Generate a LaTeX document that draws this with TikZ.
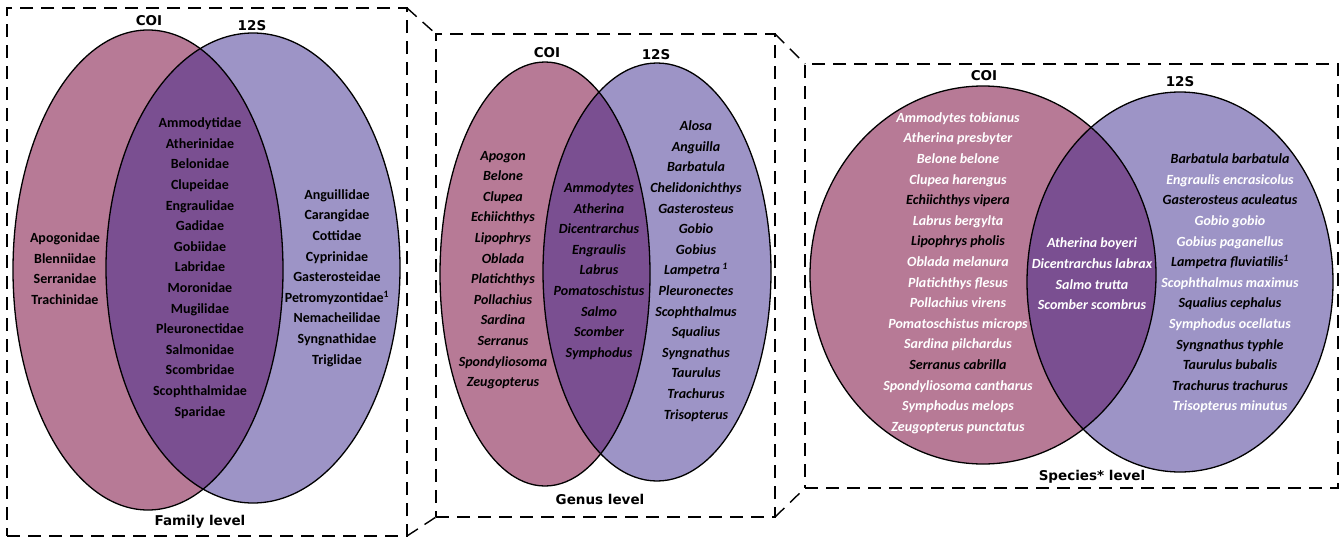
\documentclass[tikz,border=0pt]{standalone}
\usepackage{fontspec}
\setmainfont{Carlito}
\newfontfamily\hdrfont{DejaVu Sans}
\definecolor{coi}{RGB}{183,122,150}
\definecolor{tws}{RGB}{157,148,198}
\definecolor{lens}{RGB}{122,79,145}
\newcommand{\wsp}[1]{\textcolor{white}{#1}}
\newcommand{\ksp}[1]{\textcolor{black}{#1}}
\tikzset{
  dbox/.style={draw, dash pattern=on 13pt off 8pt, line width=1.4pt, inner sep=0pt, outer sep=0pt, rectangle},
  dline/.style={draw, dash pattern=on 13pt off 8pt, line width=1.4pt},
  hdr/.style={font=\hdrfont\bfseries\fontsize{13.5}{16}\selectfont, inner sep=0pt},
  fam/.style={font=\bfseries\fontsize{14}{20.6}\selectfont, align=center, inner sep=0pt},
  gen/.style={font=\bfseries\itshape\fontsize{14}{20.6}\selectfont, align=center, inner sep=0pt},
  venn/.style={draw=black, line width=1.3pt},
}
\begin{document}
\begin{tikzpicture}[x=1pt,y=-1pt]
\useasboundingbox (0,0) rectangle (1343,538);
% boxes
\node[dbox, minimum width=400pt, minimum height=528pt] (b1) at (207,272) {};
\node[dbox, minimum width=339pt, minimum height=483pt] (b2) at (605.5,275.5) {};
\node[dbox, minimum width=533pt, minimum height=424pt] (b3) at (1071.5,276) {};
\draw[dline] (b1.north east) -- (b2.north west);
\draw[dline] (b1.south east) -- (b2.south west);
\draw[dline] (b2.north east) -- (b3.north west);
\draw[dline] (b2.south east) -- (b3.south west);

% ---------- Family ----------
\fill[coi] (148,270) ellipse [x radius=135, y radius=240];
\fill[tws] (253,268) ellipse [x radius=147, y radius=235];
\begin{scope}
\clip (148,270) ellipse [x radius=135, y radius=240];
\fill[lens] (253,268) ellipse [x radius=147, y radius=235];
\end{scope}
\draw[venn] (148,270) ellipse [x radius=135, y radius=240];
\draw[venn] (253,268) ellipse [x radius=147, y radius=235];

% ---------- Genus ----------
\fill[coi] (545,274) ellipse [x radius=105, y radius=212];
\fill[tws] (657,272) ellipse [x radius=114, y radius=209];
\begin{scope}
\clip (545,274) ellipse [x radius=105, y radius=212];
\fill[lens] (657,272) ellipse [x radius=114, y radius=209];
\end{scope}
\draw[venn] (545,274) ellipse [x radius=105, y radius=212];
\draw[venn] (657,272) ellipse [x radius=114, y radius=209];

% ---------- Species ----------
\fill[coi] (983,275) ellipse [x radius=173, y radius=189];
\fill[tws] (1180,282) ellipse [x radius=153, y radius=190];
\begin{scope}
\clip (983,275) ellipse [x radius=173, y radius=189];
\fill[lens] (1180,282) ellipse [x radius=153, y radius=190];
\end{scope}
\draw[venn] (983,275) ellipse [x radius=173, y radius=189];
\draw[venn] (1180,282) ellipse [x radius=153, y radius=190];

% headers
\node[hdr] (h1a) at (149,21) {COI};
\node[hdr] (h1b) at (252,26) {12S};
\node[hdr] (h2a) at (547,53) {COI};
\node[hdr] (h2b) at (656,55) {12S};
\node[hdr] (h3a) at (984,76) {COI};
\node[hdr] (h3b) at (1180,82) {12S};
\node[hdr] (l1) at (200,522) {Family level};
\node[hdr] (l2) at (600,499) {Genus level};
\node[hdr] (l3) at (1092,477) {Species* level};

% family lists
\node[fam] (f1) at (65,268.5) {Apogonidae\\Blenniidae\\Serranidae\\Trachinidae};
\node[fam] (f2) at (200,268) {Ammodytidae\\Atherinidae\\Belonidae\\Clupeidae\\Engraulidae\\Gadidae\\Gobiidae\\Labridae\\Moronidae\\Mugilidae\\Pleuronectidae\\Salmonidae\\Scombridae\\Scophthalmidae\\Sparidae};
\node[fam] (f3) at (337,278) {Anguillidae\\Carangidae\\Cottidae\\Cyprinidae\\Gasterosteidae\\Petromyzontidae\textsuperscript{1}\\Nemacheilidae\\Syngnathidae\\Triglidae};

% genus lists
\node[gen] (g1) at (503,270) {Apogon\\Belone\\Clupea\\Echiichthys\\Lipophrys\\Oblada\\Platichthys\\Pollachius\\Sardina\\Serranus\\Spondyliosoma\\Zeugopterus};
\node[gen] (g2) at (599,271) {Ammodytes\\Atherina\\Dicentrarchus\\Engraulis\\Labrus\\Pomatoschistus\\Salmo\\Scomber\\Symphodus};
\node[gen] (g3) at (696,271) {Alosa\\Anguilla\\Barbatula\\Chelidonichthys\\Gasterosteus\\Gobio\\Gobius\\Lampetra\,\textsuperscript{1}\\Pleuronectes\\Scophthalmus\\Squalius\\Syngnathus\\Taurulus\\Trachurus\\Trisopterus};

% species lists
\node[gen] (s1) at (958,273) {\wsp{Ammodytes tobianus}\\\wsp{Atherina presbyter}\\\wsp{Belone belone}\\\wsp{Clupea harengus}\\\ksp{Echiichthys vipera}\\\wsp{Labrus bergylta}\\\ksp{Lipophrys pholis}\\\wsp{Oblada melanura}\\\wsp{Platichthys flesus}\\\wsp{Pollachius virens}\\\wsp{Pomatoschistus microps}\\\wsp{Sardina pilchardus}\\\ksp{Serranus cabrilla}\\\wsp{Spondyliosoma cantharus}\\\wsp{Symphodus melops}\\\wsp{Zeugopterus punctatus}};
\node[gen] (s2) at (1092,274) {\wsp{Atherina boyeri}\\\wsp{Dicentrarchus labrax}\\\wsp{Salmo trutta}\\\wsp{Scomber scombrus}};
\node[gen] (s3) at (1230,283.5) {\ksp{Barbatula barbatula}\\\wsp{Engraulis encrasicolus}\\\ksp{Gasterosteus aculeatus}\\\wsp{Gobio gobio}\\\wsp{Gobius paganellus}\\\ksp{Lampetra fluviatilis\textsuperscript{1}}\\\wsp{Scophthalmus maximus}\\\ksp{Squalius cephalus}\\\wsp{Symphodus ocellatus}\\\ksp{Syngnathus typhle}\\\ksp{Taurulus bubalis}\\\ksp{Trachurus trachurus}\\\wsp{Trisopterus minutus}};
\end{tikzpicture}
\end{document}
